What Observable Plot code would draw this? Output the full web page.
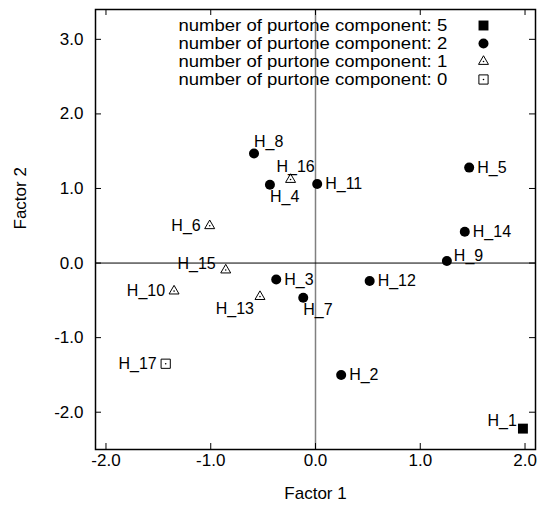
<!DOCTYPE html>
<html><head><meta charset="utf-8">
<script src="https://cdn.jsdelivr.net/npm/d3@7"></script>
<script src="https://cdn.jsdelivr.net/npm/@observablehq/plot@0.6"></script>
<style>body{margin:0;background:#fff}</style>
</head><body><div id="chart"></div>
<script>
const labels = ["H_1","H_2","H_3","H_4","H_5","H_6","H_7","H_8","H_9","H_10","H_11","H_12","H_13","H_14","H_15","H_16","H_17"];
const factor1 = [1.98, 0.245, -0.375, -0.435, 1.467, -1.01, -0.117, -0.587, 1.254, -1.35, 0.016, 0.517, -0.53, 1.425, -0.857, -0.238, -1.43];
const factor2 = [-2.22, -1.50, -0.22, 1.05, 1.28, 0.50, -0.465, 1.47, 0.027, -0.376, 1.06, -0.24, -0.45, 0.42, -0.094, 1.12, -1.35];
const components = [5, 2, 2, 2, 2, 1, 2, 2, 2, 1, 2, 2, 1, 2, 1, 1, 0];
const labelPlacement = ["cornerUL","right","right","below","right","left","below","above","rightUp","left","right","right","belowLeft","right","leftUp","aboveMid","left"];
const xTicks = [-2, -1, 0, 1, 2];
const yTicks = [-2, -1, 0, 1, 2, 3];
const legendComponents = [5, 2, 1, 0];
const legendPrefix = "number of purtone component: ";
const xLabel = "Factor 1";
const yLabel = "Factor 2";

const points = labels.map((label, i) => ({label, x: factor1[i], y: factor2[i], comp: components[i], place: labelPlacement[i]}));

const presets = {
  right: {textAnchor: "start", dx: 8, dy: 0},
  rightUp: {textAnchor: "start", dx: 7, dy: -5},
  left: {textAnchor: "end", dx: -9, dy: 0},
  leftUp: {textAnchor: "end", dx: -10, dy: -6},
  cornerUL: {textAnchor: "end", dx: -6, dy: -8},
  above: {textAnchor: "start", dx: 0, dy: -12},
  aboveMid: {textAnchor: "middle", dx: 5, dy: -13},
  below: {textAnchor: "start", dx: 0, dy: 12},
  belowLeft: {textAnchor: "end", dx: -6, dy: 12}
};

function symbolStyle(c) {
  if (c === 5) return {symbol: "square", r: 5.6, fill: "black", stroke: "none"};
  if (c === 2) return {symbol: "circle", r: 5, fill: "black", stroke: "none"};
  if (c === 1) return {symbol: "triangle", r: 3.7, fill: "none", stroke: "black", strokeWidth: 1};
  return {symbol: "square", r: 5.2, fill: "none", stroke: "black", strokeWidth: 1};
}
const hasCenterDot = c => c === 1 || c === 0;

const marks = [
  Plot.ruleX([0], {stroke: "#808080", strokeWidth: 1.5}),
  Plot.ruleY([0], {stroke: "black", strokeWidth: 1}),
  Plot.tickX(xTicks, {x: d => d, insetTop: 434, stroke: "black"}),
  Plot.tickX(xTicks, {x: d => d, insetBottom: 434, stroke: "black"}),
  Plot.tickY(yTicks, {y: d => d, insetRight: 434, stroke: "black"}),
  Plot.tickY(yTicks, {y: d => d, insetLeft: 434, stroke: "black"}),
  Plot.axisX(xTicks, {tickSize: 0, tickPadding: 4, tickFormat: d => d.toFixed(1), label: null, fontSize: 17, fill: "black"}),
  Plot.axisY(yTicks, {tickSize: 0, tickPadding: 12, tickFormat: d => d.toFixed(1), label: null, fontSize: 17, fill: "black"}),
  Plot.text([xLabel], {text: d => d, frameAnchor: "bottom", dy: 49, fontSize: 17, fill: "black"}),
  Plot.text([yLabel], {text: d => d, frameAnchor: "left", dx: -75, rotate: -90, fontSize: 17, fill: "black"}),
  Plot.frame({stroke: "black", strokeWidth: 1.5})
];

for (const c of [5, 2, 1, 0]) {
  const sub = points.filter(d => d.comp === c);
  marks.push(Plot.dot(sub, {x: "x", y: "y", ...symbolStyle(c)}));
  if (hasCenterDot(c)) marks.push(Plot.dot(sub, {x: "x", y: "y", r: 0.8, fill: "black", stroke: "none"}));
}
for (const [key, p] of Object.entries(presets)) {
  const sub = points.filter(d => d.place === key);
  marks.push(Plot.text(sub, {x: "x", y: "y", text: "label", ...p, fontSize: 16, fill: "black"}));
}
legendComponents.forEach((c, i) => {
  const dy = 16 + 18 * i;
  marks.push(Plot.text([legendPrefix + c], {text: d => d, frameAnchor: "top-left", dx: 83, dy, textAnchor: "start", lineAnchor: "middle", fontSize: 17, fill: "black"}));
  marks.push(Plot.dot([c], {frameAnchor: "top-right", dx: -52, dy, ...symbolStyle(c)}));
  if (hasCenterDot(c)) marks.push(Plot.dot([c], {frameAnchor: "top-right", dx: -52, dy, r: 0.8, fill: "black", stroke: "none"}));
});

const chart = Plot.plot({
  width: 537, height: 506,
  marginLeft: 95, marginRight: 2, marginTop: 9, marginBottom: 57,
  x: {domain: [-2.1, 2.1]},
  y: {domain: [-2.5, 3.4]},
  style: {fontFamily: "'Liberation Sans', Arial, sans-serif", fontSize: "16px", color: "black", background: "white"},
  marks
});
document.getElementById("chart").appendChild(chart);
// stretch legend entries horizontally to the reference's wide key text
const targetWidth = 269;
chart.querySelectorAll("text").forEach(t => {
  if (t.textContent.startsWith(legendPrefix)) {
    const bb = t.getBBox();
    const s = targetWidth / bb.width;
    const x0 = bb.x;
    const tr = t.getAttribute("transform") || "";
    t.setAttribute("transform", `${tr} translate(${x0},0) scale(${s},1) translate(${-x0},0)`);
  }
});
</script>
</body></html>
